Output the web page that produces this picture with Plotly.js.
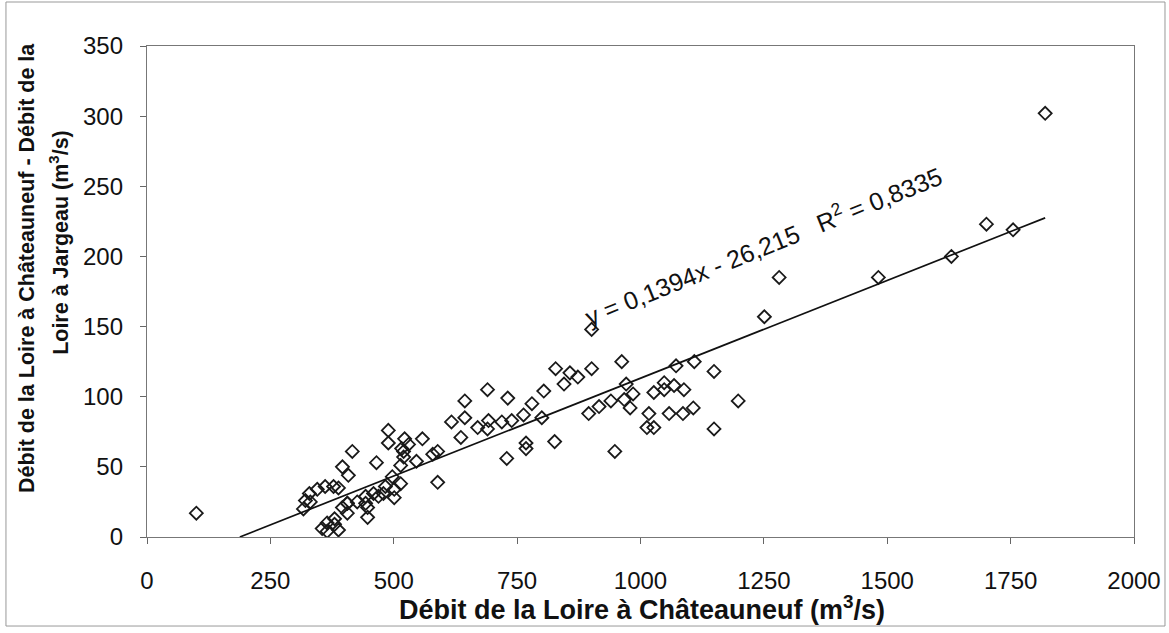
<!DOCTYPE html>
<html>
<head>
<meta charset="utf-8">
<script src="https://cdn.plot.ly/plotly-3.0.1.min.js"></script>
<style>
  html, body { margin: 0; padding: 0; background: #fff; }
  #chart { width: 1169px; height: 633px; }
</style>
</head>
<body>
<div id="chart"></div>
<script>
// Débit de la Loire à Châteauneuf (m3/s)
const debitChateauneuf = [
  100,
  317, 321, 331, 329, 345, 361, 378, 388, 396, 408, 416, 406, 396,
  355, 365, 365, 380, 380, 388, 406, 406, 426, 443, 443, 447, 447, 459, 465, 469, 479, 483, 497, 501, 501, 514,
  489, 489, 522, 530, 558, 516, 520, 520, 514, 546, 579, 589, 589,
  617, 636, 644, 644, 670, 690, 690, 692, 719, 731, 739, 763, 768, 768, 729, 780, 800, 804, 826,
  828, 845, 857, 873, 901, 901, 962, 971, 985, 967, 979, 940, 916, 895, 948,
  1017, 1013, 1027, 1027, 1048, 1048, 1068, 1088, 1058, 1086, 1107, 1072, 1109, 1149, 1198, 1149,
  1251, 1281, 1482, 1630, 1701, 1755, 1820
];
// Débit Châteauneuf - Débit Jargeau (m3/s)
const differenceDebit = [
  17,
  20, 26, 25, 31, 34, 36, 36, 35, 50, 44, 61, 24, 21,
  6, 4, 10, 9, 13, 5, 17, 24, 25, 24, 29, 21, 14, 31, 53, 29, 31, 36, 43, 34, 28, 38,
  76, 67, 70, 66, 70, 63, 61, 57, 51, 54, 59, 61, 39,
  82, 71, 85, 97, 78, 105, 77, 83, 82, 99, 83, 87, 67, 63, 56, 95, 85, 104, 68,
  120, 109, 117, 114, 120, 148, 125, 109, 102, 98, 92, 97, 93, 88, 61,
  88, 78, 78, 103, 105, 110, 108, 105, 88, 88, 92, 122, 125, 118, 97, 77,
  157, 185, 185, 200, 223, 219, 302
];
// Linear trend line (Excel): y = 0,1394x - 26,215, R² = 0,8335
const trendSlope = 0.1394;
const trendIntercept = -26.215;
const trendLabel = "y = 0,1394x - 26,215   R<sup>2</sup> = 0,8335";
const xTickVals = [0, 250, 500, 750, 1000, 1250, 1500, 1750, 2000];
const yTickVals = [0, 50, 100, 150, 200, 250, 300, 350];

const xTrendStart = -trendIntercept / trendSlope;
const xTrendEnd = Math.max(...debitChateauneuf);

const FONT = "Liberation Sans, Arial, sans-serif";

const traces = [
  {
    type: "scatter",
    mode: "markers",
    x: debitChateauneuf,
    y: differenceDebit,
    marker: { symbol: "diamond-open", size: 10, color: "#1a1a1a", line: { width: 1.8, color: "#1a1a1a" } },
    hoverinfo: "x+y",
    showlegend: false
  },
  {
    type: "scatter",
    mode: "lines",
    x: [xTrendStart, xTrendEnd],
    y: [trendSlope * xTrendStart + trendIntercept, trendSlope * xTrendEnd + trendIntercept],
    line: { color: "#111", width: 1.7 },
    hoverinfo: "skip",
    showlegend: false
  }
];

const layout = {
  width: 1169,
  height: 633,
  margin: { l: 147, r: 35, t: 46, b: 96 },
  paper_bgcolor: "#ffffff",
  plot_bgcolor: "#ffffff",
  font: { family: FONT, color: "#111", size: 24 },
  xaxis: {
    range: [0, 2000],
    tickvals: xTickVals,
    ticktext: xTickVals.map(String),
    ticks: "outside",
    ticklen: 6,
    tickcolor: "#666",
    ticklabelstandoff: 16,
    showgrid: false,
    zeroline: false,
    showline: true,
    mirror: true,
    linecolor: "#777",
    linewidth: 1.2,
    tickfont: { family: FONT, size: 24, color: "#111" }
  },
  yaxis: {
    range: [0, 350],
    tickvals: yTickVals,
    ticktext: yTickVals.map(String),
    ticks: "outside",
    ticklen: 6,
    tickcolor: "#666",
    ticklabelstandoff: 12,
    showgrid: false,
    zeroline: false,
    showline: true,
    mirror: true,
    linecolor: "#777",
    linewidth: 1.2,
    tickfont: { family: FONT, size: 24, color: "#111" }
  },
  annotations: [
    {
      text: trendLabel,
      x: 1249, y: 208, xref: "x", yref: "y",
      showarrow: false, textangle: -22,
      font: { family: FONT, size: 25, color: "#111" }
    },
    {
      text: "<b>Débit de la Loire à Châteauneuf (m<sup>3</sup>/s)</b>",
      x: 0.5015, y: -0.1446, xref: "paper", yref: "paper",
      xanchor: "center", yanchor: "middle", showarrow: false,
      font: { family: FONT, size: 27, color: "#111" }
    },
    {
      text: "<b>Débit de la Loire à Châteauneuf - Débit de la</b>",
      x: -0.1216, y: 0.548, xref: "paper", yref: "paper",
      xanchor: "center", yanchor: "middle", showarrow: false, textangle: -90,
      font: { family: FONT, size: 21.5, color: "#111" }
    },
    {
      text: "<b>Loire à Jargeau (m<sup>3</sup>/s)</b>",
      x: -0.0892, y: 0.601, xref: "paper", yref: "paper",
      xanchor: "center", yanchor: "middle", showarrow: false, textangle: -90,
      font: { family: FONT, size: 21.5, color: "#111" }
    }
  ],
  shapes: [
    {
      type: "rect", xref: "paper", yref: "paper",
      x0: -0.1429, x1: 1.0314, y0: -0.1813, y1: 1.0896,
      line: { color: "#999", width: 1 }, fillcolor: "rgba(0,0,0,0)", layer: "below"
    }
  ]
};

Plotly.newPlot("chart", traces, layout, { staticPlot: true, displayModeBar: false });
</script>
</body>
</html>
